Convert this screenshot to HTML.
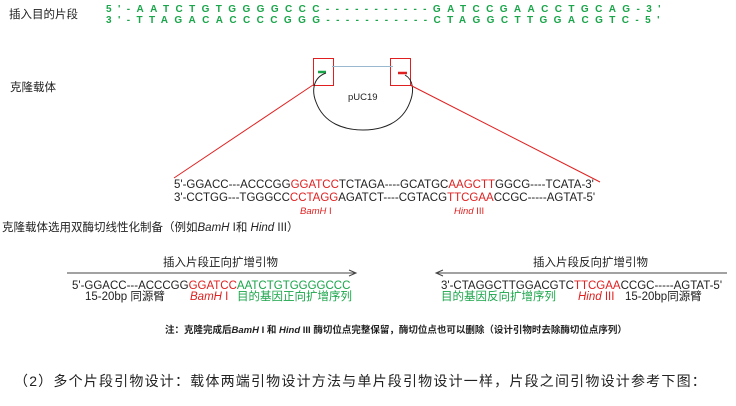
<!DOCTYPE html>
<html><head><meta charset="utf-8"><style>
body{margin:0;width:736px;height:406px;background:#fff;position:relative;overflow:hidden;font-family:"Liberation Sans","Noto Sans CJK SC",sans-serif;color:#222}
.a{position:absolute;white-space:nowrap;line-height:1}
.g{color:#1aa54a}.r{color:#e02020}
.seq{font-size:10px;letter-spacing:6.4px;color:#1aa54a;font-weight:bold}
.s{font-size:11.5px}
</style></head><body>
<div class="a" style="left:9px;top:10px;font-size:11.5px">插入目的片段</div>
<div class="a seq" style="left:106px;top:5px">5'-AATCTGTGGGGCCC-----------GATCCGAACCTGCAG-3'</div>
<div class="a seq" style="left:106px;top:16px">3'-TTAGACACCCCGGG-----------CTAGGCTTGGACGTC-5'</div>
<div class="a" style="left:10px;top:83px;font-size:11.5px">克隆载体</div>
<svg class="a" style="left:0;top:0" width="736" height="406">
<rect x="313.5" y="58.5" width="20" height="27" fill="none" stroke="#e02020" stroke-width="1"/>
<rect x="390.5" y="58.5" width="20" height="27" fill="none" stroke="#e02020" stroke-width="1"/>
<line x1="332" y1="66.5" x2="393" y2="66.5" stroke="#9ab8d0" stroke-width="1"/>
<line x1="318" y1="72" x2="326" y2="72" stroke="#1aa54a" stroke-width="2.5"/>
<line x1="398" y1="73" x2="407" y2="73" stroke="#e02020" stroke-width="2.5"/>
<path d="M326 73 C312 78 312 92 316 102 C324 124 345 130 363 130 C381 130 402 124 410 102 C414 92 414 80 405 75" fill="none" stroke="#222" stroke-width="1"/>
<line x1="313" y1="85" x2="174" y2="178" stroke="#e02020" stroke-width="1"/>
<line x1="410" y1="85" x2="600" y2="182" stroke="#e02020" stroke-width="1"/>
<line x1="67" y1="273" x2="356" y2="273" stroke="#444" stroke-width="1"/>
<path d="M349 270 L356 273 L349 276" fill="none" stroke="#444"/>
<line x1="436" y1="273" x2="727" y2="273" stroke="#444" stroke-width="1"/>
<path d="M443 270 L436 273 L443 276" fill="none" stroke="#444"/>
</svg>
<div class="a" style="left:348px;top:93px;font-size:9.5px">pUC19</div>
<div class="a s" style="left:174px;top:180px">5'-GGACC---ACCCGG<span class="r">GGATCC</span>TCTAGA----GCATGC<span class="r">AAGCTT</span>GGCG----TCATA-3'</div>
<div class="a s" style="left:174px;top:193px">3'-CCTGG---TGGGCC<span class="r">CCTAGG</span>AGATCT----CGTACG<span class="r">TTCGAA</span>CCGC-----AGTAT-5'</div>
<div class="a r" style="left:300px;top:207px;font-size:9.5px"><i>BamH</i> I</div>
<div class="a r" style="left:454px;top:207px;font-size:9.5px"><i>Hind</i> III</div>
<div class="a" style="left:2px;top:223px;font-size:11.5px">克隆载体选用双酶切线性化制备（例如<i>BamH</i> I和 <i>Hind</i> III）</div>
<div class="a" style="left:163px;top:258px;font-size:11.5px">插入片段正向扩增引物</div>
<div class="a" style="left:533px;top:258px;font-size:11.5px">插入片段反向扩增引物</div>
<div class="a s" style="left:72px;top:281px">5'-GGACC---ACCCGG<span class="r">GGATCC</span><span class="g">AATCTGTGGGGCCC</span></div>
<div class="a s" style="left:85px;top:292px">15-20bp 同源臂</div>
<div class="a r s" style="left:190px;top:292px"><i>BamH</i> I</div>
<div class="a g s" style="left:237px;top:292px">目的基因正向扩增序列</div>
<div class="a s" style="left:441px;top:281px">3'-CTAGGCTTGGACGTC<span class="r">TTCGAA</span>CCGC-----AGTAT-5'</div>
<div class="a g s" style="left:441px;top:292px">目的基因反向扩增序列</div>
<div class="a r s" style="left:578px;top:292px"><i>Hind</i> III</div>
<div class="a s" style="left:625px;top:292px">15-20bp同源臂</div>
<div class="a" style="left:165px;top:326px;font-size:9.5px;font-weight:bold">注：克隆完成后<i>BamH</i> I 和 <i>Hind</i> III 酶切位点完整保留，酶切位点也可以删除（设计引物时去除酶切位点序列）</div>
<div class="a" style="left:14px;top:374px;font-size:14px;letter-spacing:1.2px">（2）多个片段引物设计：载体两端引物设计方法与单片段引物设计一样，片段之间引物设计参考下图：</div>
</body></html>
